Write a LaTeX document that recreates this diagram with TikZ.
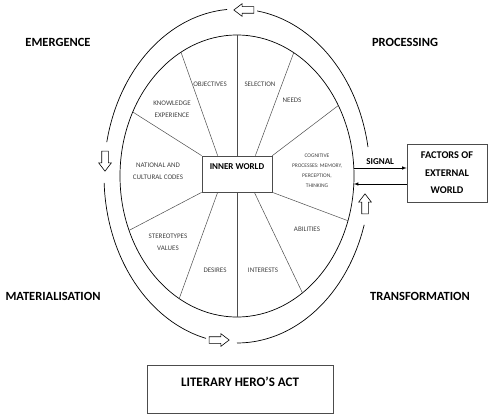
\documentclass[tikz,border=0pt]{standalone}
\usepackage{fontspec}
\setmainfont{Carlito}
\usetikzlibrary{shapes.arrows}

\begin{document}
\begin{tikzpicture}[x=1pt, y=-1pt,
    lbl/.style={font=\fontsize{7}{12}\selectfont, text=black!75, align=center, inner sep=0pt},
    phase/.style={font=\fontsize{12.5}{14}\selectfont\bfseries, inner sep=0pt},
    box/.style={draw=black!70, line width=0.7pt, align=center, inner sep=0pt},
    hollow/.style={single arrow, draw, fill=white, line width=0.6pt, minimum height=20pt, minimum width=12pt,
      single arrow head extend=3pt, single arrow tip angle=75, inner xsep=0pt, inner ysep=3pt},
    spoke/.style={draw=black!70, line width=0.5pt},
    ring/.style={line width=0.7pt, smooth, variable=\t}]
    \useasboundingbox (0,0) rectangle (489,417);

    \draw[line width=0.7pt] (237,176) ellipse[x radius=117, y radius=141];
    \draw[ring, domain=10:81.3] plot ({237+133*cos(\t)},{176-167*sin(\t)});
    \draw[ring, domain=94.3:168.3] plot ({237+133*cos(\t)},{176-167*sin(\t)});
    \draw[ring, domain=182.4:256.5] plot ({237+133*cos(\t)},{176-167*sin(\t)});
    \draw[ring, domain=270:343] plot ({237+133*cos(\t)},{176-167*sin(\t)});

    \node[hollow, rotate=180] (toparr) at (246,10) {};
    \node[hollow, rotate=-90] (leftarr) at (105,159) {};
    \node[hollow] (botarr) at (217,340) {};
    \node[hollow, rotate=90] (rightarr) at (365,206) {};

    \foreach \n/\a in {top/90, n1/118.6, nw/153, sw/202.7, s1/240.4, bot/270, s2/-56, se/-18.5, ne/30, n2/61, sigA/3.25, sigB/-3.25}
      \coordinate (\n) at ({237+117*cos(\a)},{176-141*sin(\a)});

    \node[box, minimum width=70pt, minimum height=36pt, text depth=15pt,
      font=\fontsize{9}{10}\selectfont\bfseries] (inner) at (237,174) {INNER WORLD};

    \draw[spoke] (inner.north) -- (top);
    \draw[spoke] (inner.south) -- (bot);
    \draw[spoke] ([xshift=16pt]inner.north west) -- (n1);
    \draw[spoke] ([xshift=-17pt]inner.north east) -- (n2);
    \draw[spoke] (inner.north west) -- (nw);
    \draw[spoke] (inner.north east) -- (ne);
    \draw[spoke] (inner.south west) -- (sw);
    \draw[spoke] (inner.south east) -- (se);
    \draw[spoke] ([xshift=16pt]inner.south west) -- (s1);
    \draw[spoke] ([xshift=-18pt]inner.south east) -- (s2);

    \node[lbl] (objectives) at (210,84) {OBJECTIVES};
    \node[lbl] (selection) at (260,84) {SELECTION};
    \node[lbl] (needs) at (292,100) {NEEDS};
    \node[lbl] (knowledge) at (172,109) {KNOWLEDGE\\EXPERIENCE};
    \node[lbl] (national) at (158,171) {NATIONAL AND\\CULTURAL CODES};
    \node[lbl, font=\fontsize{5.5}{10}\selectfont] (cognitive) at (317,171) {COGNITIVE\\PROCESSES: MEMORY,\\PERCEPTION,\\THINKING};
    \node[lbl] (abilities) at (307,229) {ABILITIES};
    \node[lbl] (stereotypes) at (168,242) {STEREOTYPES\\VALUES};
    \node[lbl] (desires) at (215,270) {DESIRES};
    \node[lbl] (interests) at (263,270) {INTERESTS};

    \node[box, minimum width=80pt, minimum height=58pt, font=\fontsize{10.3}{17.5}\selectfont\bfseries] (ext) at (447,173)
      {FACTORS OF\\EXTERNAL\\WORLD};
    \draw[->, >=latex, line width=0.6pt] (sigA) -- (sigA -| ext.west)
      node[midway, above=3pt, font=\fontsize{9}{10}\selectfont\bfseries, inner sep=0pt] {SIGNAL};
    \draw[->, >=latex, line width=0.6pt] (sigB -| ext.west) -- (sigB);

    \node[phase] (emergence) at (58,42) {EMERGENCE};
    \node[phase] (processing) at (405,42) {PROCESSING};
    \node[phase] (materialisation) at (53,296) {MATERIALISATION};
    \node[phase] (transformation) at (420,296) {TRANSFORMATION};

    \node[box, minimum width=186pt, minimum height=48pt, text depth=14pt,
      font=\fontsize{13}{15}\selectfont\bfseries] (act) at (240,389) {LITERARY HERO’S ACT};
  \end{tikzpicture}
\end{document}
